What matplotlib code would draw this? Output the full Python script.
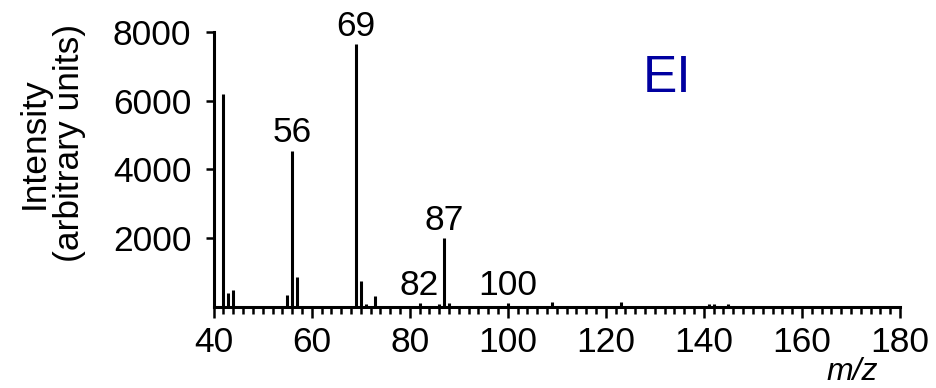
import matplotlib
matplotlib.use('Agg')
import matplotlib.pyplot as plt
from matplotlib.ticker import MultipleLocator

plt.rcParams['font.family'] = ['Liberation Sans', 'DejaVu Sans']

# EI mass spectrum, peaks
mz = [42, 43, 44, 55, 56, 57, 69, 70, 71, 73, 82, 86, 87, 88, 100, 109, 123, 141, 142, 145]
intensity = [6200, 400, 480, 340, 4550, 880, 7650, 770, 80, 310, 120, 90, 2000, 110, 110, 150, 150, 90, 90, 80]
labelled = [56, 69, 82, 87, 100]

yticks = [2000, 4000, 6000, 8000]
xticks = [40, 60, 80, 100, 120, 140, 160, 180]

fig = plt.figure(figsize=(9.36, 3.88), dpi=100)
ax = fig.add_axes([0.2283, 0.2088, 0.7332, 0.7088])

ax.vlines(mz, 0, intensity, colors='black', linewidth=2.2, clip_on=False)

for m, inten in zip(mz, intensity):
    if m in labelled:
        ax.annotate(str(m), (m, inten), xytext=(0, 6), textcoords='offset points',
                    ha='center', va='baseline', fontsize=25.5, annotation_clip=False)

ax.set_xlim(40, 180)
ax.set_ylim(0, 8000)
ax.set_xticks(xticks)
ax.set_yticks(yticks)
ax.xaxis.set_minor_locator(MultipleLocator(2))

for s in ['top', 'right']:
    ax.spines[s].set_visible(False)
for s in ['left', 'bottom']:
    ax.spines[s].set_linewidth(2.2)

ax.tick_params(axis='x', which='major', direction='out', length=8, width=1.8, pad=6, labelsize=25.5)
ax.tick_params(axis='x', which='minor', direction='out', length=5, width=1.8)
ax.tick_params(axis='y', which='major', direction='out', length=6, width=1.8, pad=10, labelsize=25.5)

fig.text(52 / 936, (388 - 143) / 388, 'Intensity\n(arbitrary units)', rotation=90,
         ha='center', va='center', multialignment='center', fontsize=25.5, linespacing=1.1)
fig.text(852 / 936, 8 / 388, 'm/z', style='italic', ha='center', va='baseline', fontsize=23)
fig.text(667 / 936, (388 - 92) / 388, 'EI', ha='center', va='baseline', fontsize=37, color='#0000a0')

fig.savefig('out.png', dpi=100)
